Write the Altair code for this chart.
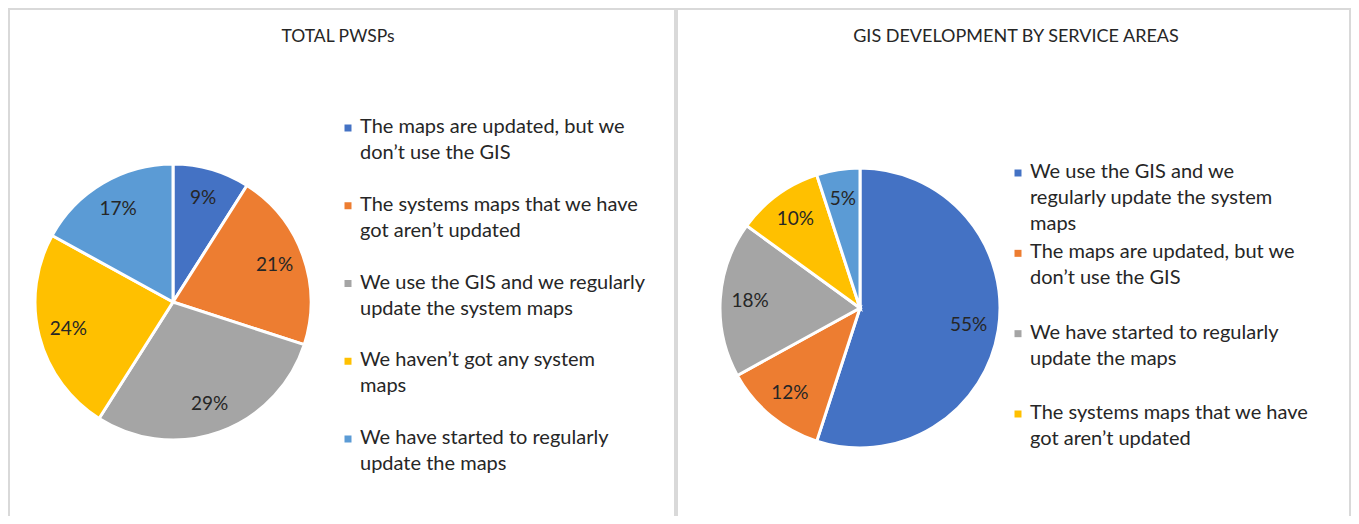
import altair as alt
import pandas as pd

FONT = "Lato"
TEXT_COLOR = "#262626"
BORDER = "#D9D9D9"
PALETTE = ["#4472C4", "#ED7D31", "#A5A5A5", "#FFC000", "#5B9BD5"]

left_title = "TOTAL PWSPs"
left_categories = [
    "The maps are updated, but we don’t use the GIS",
    "The systems maps that we have got aren’t updated",
    "We use the GIS and we regularly update the system maps",
    "We haven’t got any system maps",
    "We have started to regularly update the maps",
]
left_values = [9, 21, 29, 24, 17]
left_legend_lines = [
    "The maps are updated, but we\ndon’t use the GIS",
    "The systems maps that we have\ngot aren’t updated",
    "We use the GIS and we regularly\nupdate the system maps",
    "We haven’t got any system\nmaps",
    "We have started to regularly\nupdate the maps",
]

right_title = "GIS DEVELOPMENT BY SERVICE AREAS"
right_categories = [
    "We use the GIS and we regularly update the system maps",
    "The maps are updated, but we don’t use the GIS",
    "We have started to regularly update the maps",
    "The systems maps that we have got aren’t updated",
    "We haven’t got any system maps",
]
right_values = [55, 12, 18, 10, 5]
right_legend_lines = [
    "We use the GIS and we\nregularly update the system\nmaps",
    "The maps are updated, but we\ndon’t use the GIS",
    "We have started to regularly\nupdate the maps",
    "The systems maps that we have\ngot aren’t updated",
]


def panel(title, cats, vals, legend_lines, w, h, cx, cy, r, lr,
          title_x, title_y, title_size, mx, tx, ly0, ly1):
    n = len(legend_lines)
    pie_df = pd.DataFrame({"cat": cats, "value": vals, "order": list(range(len(cats)))})
    color = alt.Color("cat:N", scale=alt.Scale(domain=cats, range=PALETTE), legend=None)
    theta = alt.Theta("value:Q", stack=True)
    order = alt.Order("order:Q")
    base = alt.Chart(pie_df)
    arcs = base.mark_arc(radius=r, stroke="white", strokeWidth=3).encode(
        theta=theta, color=color, order=order, x=alt.value(cx), y=alt.value(cy)
    )
    labels = base.transform_calculate(pct="datum.value + '%'").mark_text(
        radius=lr, font=FONT, fontSize=19, color=TEXT_COLOR
    ).encode(theta=theta, order=order, text="pct:N", x=alt.value(cx), y=alt.value(cy))

    leg_df = pd.DataFrame({"cat": cats[:n], "text": legend_lines})
    ypos = alt.Y("cat:N", scale=alt.Scale(type="point", domain=cats[:n], range=[ly0, ly1], padding=0), axis=None)
    markers = alt.Chart(leg_df).mark_square(size=49, opacity=1).encode(
        x=alt.value(mx), y=ypos, color=color
    )
    leg_text = alt.Chart(leg_df).mark_text(
        align="left", baseline="top", dy=-11, lineBreak="\n", lineHeight=26,
        font=FONT, fontSize=20, color=TEXT_COLOR
    ).encode(x=alt.value(tx), y=ypos, text="text:N")

    tdf = pd.DataFrame({"t": [title]})
    ttl = alt.Chart(tdf).mark_text(font=FONT, fontSize=title_size, color=TEXT_COLOR, baseline="middle").encode(
        x=alt.value(title_x), y=alt.value(title_y), text="t:N"
    )

    bdf = pd.DataFrame({"b": [0]})
    frame = alt.Chart(bdf).mark_rect(
        fill="transparent", stroke=BORDER, strokeWidth=2, clip=True
    ).encode(x=alt.value(1), x2=alt.value(w - 1), y=alt.value(1), y2=alt.value(h + 20))

    return alt.layer(frame, arcs, labels, markers, leg_text, ttl).properties(
        width=w, height=h
    )


left = panel(left_title, left_categories, left_values, left_legend_lines,
             668, 508, 165, 294, 138, 108, 330, 29, 17.5, 340, 352, 120, 431)
right = panel(right_title, right_categories, right_values, right_legend_lines,
              675, 508, 184, 300, 140, 110, 340, 29, 18, 342, 354, 165, 406)

chart = alt.hconcat(left, right, spacing=0).resolve_scale(
    color="independent", y="independent"
).properties(padding=0).configure(background="white").configure_view(strokeWidth=0)

chart.save("out.html", embed_options={"renderer": "svg", "actions": False})
